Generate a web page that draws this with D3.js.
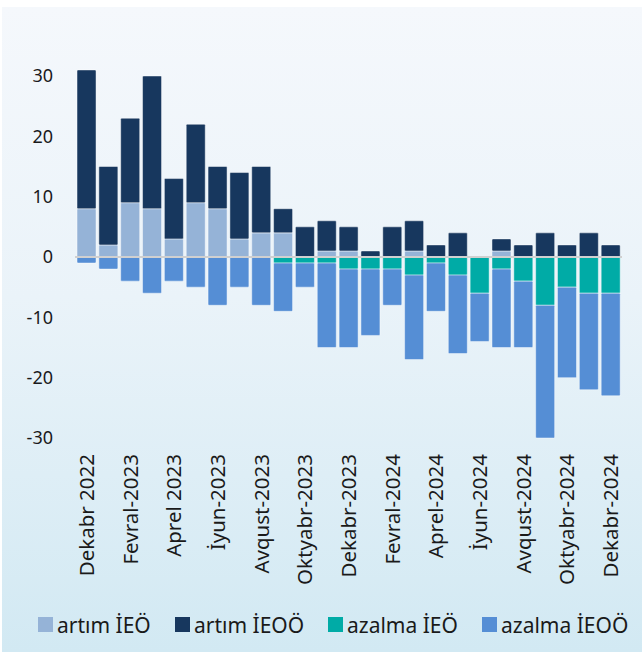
<!DOCTYPE html>
<html>
<head>
<meta charset="utf-8">
<script src="https://cdn.jsdelivr.net/npm/d3@7/dist/d3.min.js"></script>
<style>
	html, body { margin: 0; padding: 0; background: #fff; }
	svg { display: block; }
</style>
</head>
<body>
<div id="chart"></div>
<script>
var months = ["Dekabr 2022", "Yanvar-2023", "Fevral-2023", "Mart 2023", "Aprel 2023", "May-2023",
	"İyun-2023", "İyul-2023", "Avqust-2023", "Sentyabr-2023", "Oktyabr-2023", "Noyabr-2023",
	"Dekabr-2023", "Yanvar-2024", "Fevral-2024", "Mart-2024", "Aprel-2024", "May-2024",
	"İyun-2024", "İyul-2024", "Avqust-2024", "Sentyabr-2024", "Oktyabr-2024", "Noyabr-2024", "Dekabr-2024"];

var artimIEO   = [8, 2, 9, 8, 3, 9, 8, 3, 4, 4, 0, 1, 1, 0, 0, 1, 0, 0, 0, 1, 0, 0, 0, 0, 0];
var artimIEOO  = [23, 13, 14, 22, 10, 13, 7, 11, 11, 4, 5, 5, 4, 1, 5, 5, 2, 4, 0, 2, 2, 4, 2, 4, 2];
var azalmaIEO  = [0, 0, 0, 0, 0, 0, 0, 0, 0, -1, -1, -1, -2, -2, -2, -3, -1, -3, -6, -2, -4, -8, -5, -6, -6];
var azalmaIEOO = [-1, -2, -4, -6, -4, -5, -8, -5, -8, -8, -4, -14, -13, -11, -6, -14, -8, -13, -8, -13, -11, -22, -15, -16, -17];

var yTicks = [30, 20, 10, 0, -10, -20, -30];

var seriesNames = ["artım İEÖ", "artım İEOÖ", "azalma İEÖ", "azalma İEOÖ"];
var colors = ["#95b3d7", "#17375e", "#00aba6", "#558ed5"];

var width = 642,
	height = 652;

var rows = months.map(function(m, i) {
	return { month: m, a: artimIEO[i], b: artimIEOO[i], c: azalmaIEO[i], d: azalmaIEOO[i] };
});

var svg = d3.select("#chart").append("svg")
	.attr("width", width)
	.attr("height", height);

var grad = svg.append("defs")
	.append("linearGradient")
	.attr("id", "bg")
	.attr("x1", 0).attr("y1", 0)
	.attr("x2", 0).attr("y2", 1);
grad.append("stop").attr("offset", "0%").attr("stop-color", "#f5f8fc");
grad.append("stop").attr("offset", "45%").attr("stop-color", "#eaf3f9");
grad.append("stop").attr("offset", "100%").attr("stop-color", "#d2e9f3");

svg.append("rect")
	.attr("x", 2)
	.attr("y", 7)
	.attr("width", width - 2)
	.attr("height", height - 7)
	.attr("fill", "url(#bg)");

var x = d3.scaleBand()
	.domain(months)
	.range([75.6, 621.6])
	.paddingInner(0.13)
	.paddingOuter(0.065);

var y = d3.scaleLinear()
	.domain([-30, 30])
	.range([438, 76]);

var stack = d3.stack()
	.keys(["a", "b", "c", "d"])
	.offset(d3.stackOffsetDiverging);

var layers = svg.append("g")
	.selectAll("g")
	.data(stack(rows))
	.join("g")
	.attr("fill", function(d, i) { return colors[i]; });

layers.selectAll("rect")
	.data(function(d) { return d; })
	.join("rect")
	.attr("x", function(d) { return x(d.data.month); })
	.attr("y", function(d) { return y(Math.max(d[0], d[1])); })
	.attr("width", x.bandwidth())
	.attr("height", function(d) { return Math.abs(y(d[0]) - y(d[1])); })
	.attr("rx", 1)
	.attr("stroke", "rgba(255,255,255,0.45)")
	.attr("stroke-width", 1);

// zero line over the bars
svg.append("line")
	.attr("x1", 75)
	.attr("x2", 622)
	.attr("y1", y(0))
	.attr("y2", y(0))
	.attr("stroke", "#d0d0d0")
	.attr("stroke-width", 2);

var yAxis = svg.append("g")
	.attr("transform", "translate(53,0)")
	.call(d3.axisLeft(y).tickValues(yTicks).tickSize(0).tickPadding(0)
		.tickFormat(function(d) { return String(d); }));
yAxis.select(".domain").remove();
yAxis.selectAll("text")
	.style("font-family", "'Noto Sans', sans-serif")
	.style("font-size", "18px")
	.style("fill", "#1a1a1a");

var xAxis = svg.append("g")
	.attr("transform", "translate(0,454)")
	.call(d3.axisBottom(x)
		.tickValues(months.filter(function(d, i) { return i % 2 === 0; }))
		.tickSize(0)
		.tickPadding(0));
xAxis.select(".domain").remove();
xAxis.selectAll("text")
	.attr("y", 0)
	.attr("x", 0)
	.attr("dy", "0.36em")
	.attr("transform", "rotate(-90)")
	.style("text-anchor", "end")
	.style("font-family", "'Noto Sans', sans-serif")
	.style("font-size", "20.5px")
	.style("fill", "#1a1a1a");

var legendX = [38, 175, 328, 482];
var legend = svg.append("g");
seriesNames.forEach(function(name, i) {
	legend.append("rect")
		.attr("x", legendX[i])
		.attr("y", 617)
		.attr("width", 15)
		.attr("height", 15)
		.attr("fill", colors[i]);
	legend.append("text")
		.attr("x", legendX[i] + 19)
		.attr("y", 625)
		.attr("dy", "0.36em")
		.style("font-family", "'Noto Sans', sans-serif")
		.style("font-size", "21px")
		.style("fill", "#1a1a1a")
		.text(name);
});
</script>
</body>
</html>
